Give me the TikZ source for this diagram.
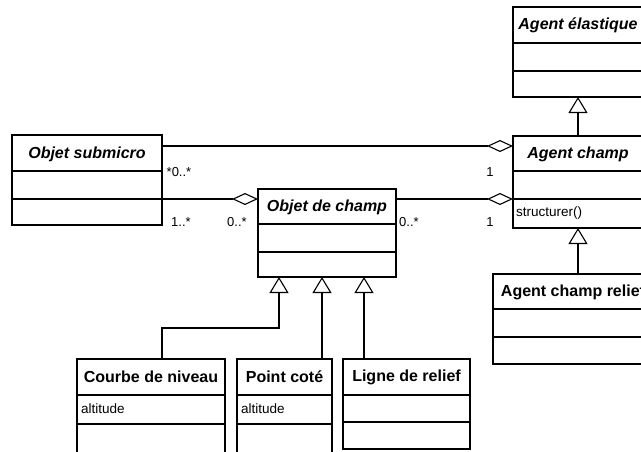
\documentclass[tikz,border=0pt]{standalone}
\usepackage{fontspec}
\setmainfont{Liberation Sans}
\usetikzlibrary{arrows.meta, positioning, calc}

\begin{document}
\begin{tikzpicture}[x=1pt, y=-1pt,
  classbox/.style={draw, line width=1.1pt, anchor=north west, inner sep=0pt, outer sep=0pt},
  abstract/.style={font=\fontsize{16}{18}\selectfont\bfseries\itshape},
  concrete/.style={font=\fontsize{16}{18}\selectfont\bfseries},
  member/.style={font=\fontsize{13.5}{16}\selectfont, anchor=west, inner sep=0pt},
  mult/.style={font=\fontsize{13}{15}\selectfont, inner sep=0pt},
  aggr/.style={line width=1.1pt, -{Diamond[open, length=26pt, width=12pt]}},
  gen/.style={line width=1.1pt, -{Triangle[open, length=16pt, width=19pt]}}]
  \useasboundingbox (0,0) rectangle (641,451);
  \clip (0,0) rectangle (641,451);

  % Classes: name/x/y/width/title, attribute and operation heights
  \foreach \nm/\x/\y/\w/\ha/\hb/\hc in {
      osub/12/135/150/36/28/26,
      ochamp/258/189/138/35/28/25,
      aelas/513/7/130/36/28/26,
      achamp/513/136/130/35/28/29,
      arelief/493/274/160/35/28/27,
      courbe/77/359/148/36/29/40,
      point/237/359/95/36/29/40,
      ligne/343/359/127/36/27/27} {
    \node[classbox, minimum width=\w, minimum height=\ha+\hb+\hc] (\nm) at (\x,\y) {};
    \draw[line width=1.1pt] (\nm.north west) ++(0,\ha) -- ++(\w,0);
    \draw[line width=1.1pt] (\nm.north west) ++(0,\ha+\hb) -- ++(\w,0);
  }

  % Class names
  \node[abstract] (osub-t) at ($(osub.north)+(0,19)$) {Objet submicro};
  \node[abstract] (ochamp-t) at ($(ochamp.north)+(0,18)$) {Objet de champ};
  \node[abstract] (aelas-t) at ($(aelas.north)+(0,18)$) {Agent élastique};
  \node[abstract] (achamp-t) at ($(achamp.north)+(0,18)$) {Agent champ};
  \node[concrete] (arelief-t) at ($(arelief.north)+(0,18)$) {Agent champ relief};
  \node[concrete] (courbe-t) at ($(courbe.north)+(0,18)$) {Courbe de niveau};
  \node[concrete] (point-t) at ($(point.north)+(0,18)$) {Point coté};
  \node[concrete] (ligne-t) at ($(ligne.north)+(0,18)$) {Ligne de relief};

  % Attributes and operations
  \node[member] (courbe-a) at ($(courbe.north west)+(4,50)$) {altitude};
  \node[member] (point-a) at ($(point.north west)+(4,50)$) {altitude};
  \node[member] (achamp-o) at ($(achamp.north west)+(3,77)$) {structurer()};

  % Aggregations
  \draw[aggr] (osub.north east) ++(0,11) coordinate (s1) -- (s1 -| achamp.west);
  \draw[aggr] (osub.north east) ++(0,64) coordinate (s2) -- (s2 -| ochamp.west);
  \draw[aggr] (ochamp.north east) ++(0,10) coordinate (c1) -- (c1 -| achamp.west);

  % Generalizations
  \draw[gen] (achamp.north) -- (aelas.south);
  \draw[gen] (arelief.north) ++(5,0) coordinate (r1) -- (r1 |- achamp.south);
  \draw[gen] (courbe.north west) ++(85,0) |- ++(117,-31) coordinate (bend) -- (bend |- ochamp.south);
  \draw[gen] (point.north west) ++(85,0) coordinate (p1) -- (p1 |- ochamp.south);
  \draw[gen] (ligne.north west) ++(21,0) coordinate (l1) -- (l1 |- ochamp.south);

  % Multiplicities
  \node[mult] (m1) at (179,172) {*0..*};
  \node[mult] (m2) at (181,222) {1..*};
  \node[mult] (m3) at (237,222) {0..*};
  \node[mult] (m4) at (490,172) {1};
  \node[mult] (m5) at (409,222) {0..*};
  \node[mult] (m6) at (490,222) {1};
\end{tikzpicture}
\end{document}
